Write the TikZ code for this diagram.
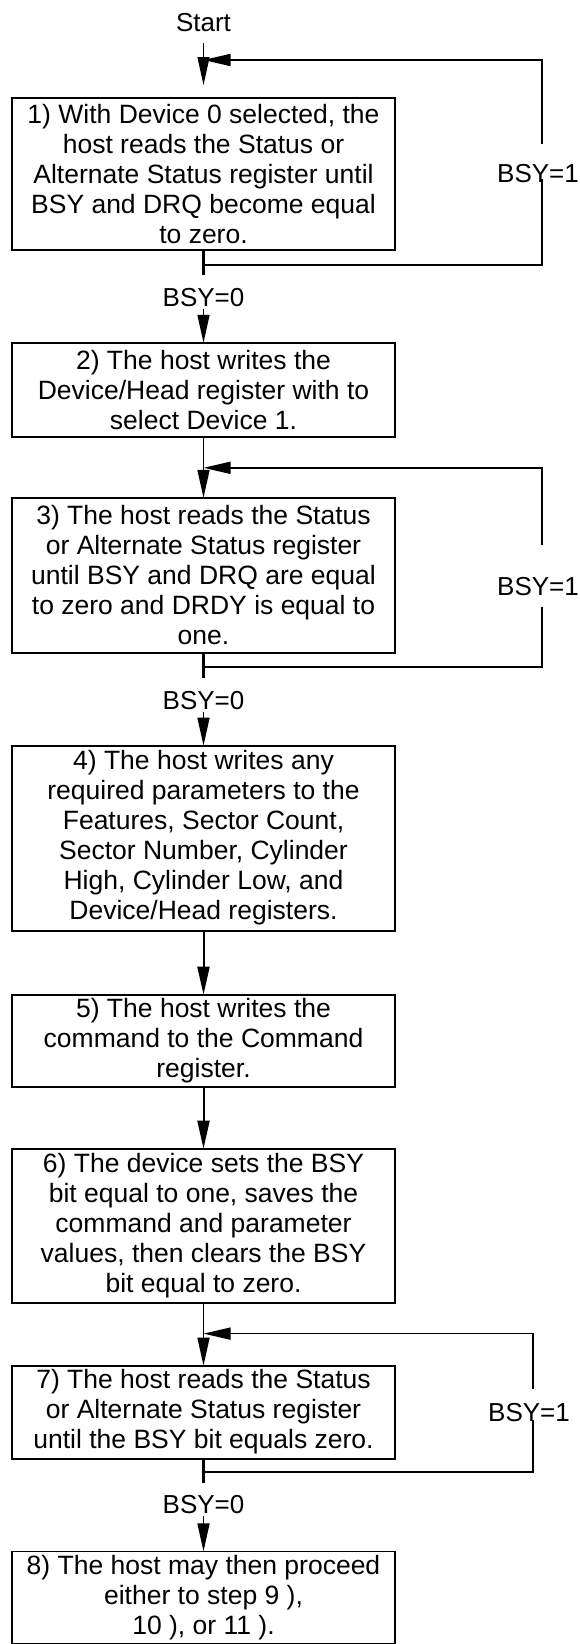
\documentclass[tikz,border=0pt]{standalone}
\usepackage{fontspec}
\setmainfont{Liberation Sans}
\usepackage{tikz}
\usetikzlibrary{
  arrows.meta,
  positioning,
  calc
}
\tikzset{
  stepbox/.style={
    draw, line width=1.8pt, minimum width=383pt, inner sep=0pt, outer sep=0pt,
    align=center, font=\fontsize{26.5}{30}\selectfont
  },
  tag/.style={inner sep=2pt, font=\fontsize{26}{30}\selectfont},
  flow/.style={-{Triangle[length=28pt, width=12pt]}, line width=1.4pt},
  backflow/.style={-{Triangle[length=27pt, width=12pt]}, line width=1.6pt},
  retline/.style={line width=2.2pt}
}

\begin{document}
\begin{tikzpicture}[node distance=62pt]
  \useasboundingbox (0,0) rectangle (580pt,-1644pt);
  \node[stepbox, minimum height=152pt] (s1) at (203.5pt,-174pt) {1) With Device 0 selected, the\\host reads the Status or\\Alternate Status register until\\BSY and DRQ become equal\\to zero.};
  \node[tag, above=64pt of s1] (start) {Start};
  \node[tag, below=36pt of s1] (zero1) {BSY=0};
  \node[stepbox, minimum height=94pt, below=34pt of zero1] (s2) {2) The host writes the\\Device/Head register with to\\select Device 1.};
  \node[stepbox, minimum height=155pt, below=61pt of s2] (s3) {3) The host reads the Status\\or Alternate Status register\\until BSY and DRQ are equal\\to zero and DRDY is equal to\\one.};
  \node[tag, below=36pt of s3] (zero3) {BSY=0};
  \node[stepbox, minimum height=185pt, below=34pt of zero3] (s4) {4) The host writes any\\required parameters to the\\Features, Sector Count,\\Sector Number, Cylinder\\High, Cylinder Low, and\\Device/Head registers.};
  \node[stepbox, minimum height=92pt, below=64pt of s4] (s5) {5) The host writes the\\command to the Command\\register.};
  \node[stepbox, minimum height=154pt, below=of s5] (s6) {6) The device sets the BSY\\bit equal to one, saves the\\command and parameter\\values, then clears the BSY\\bit equal to zero.};
  \node[stepbox, minimum height=93pt, below=63pt of s6] (s7) {7) The host reads the Status\\or Alternate Status register\\until the BSY bit equals zero.};
  \node[tag, below=35pt of s7] (zero7) {BSY=0};
  \node[stepbox, minimum height=92pt, below=35pt of zero7] (s8) {8) The host may then proceed\\either to step 9 ),\\10 ), or 11 ).};

  \coordinate[above=38pt of s1] (in1);
  \coordinate[below=15pt of s1] (out1);
  \coordinate (edge1) at ([xshift=147pt]s1.east);
  \node[tag, xshift=-4pt] (one1) at (edge1 |- s1) {BSY=1};

  \coordinate[above=30pt of s3] (in3);
  \coordinate[below=14pt of s3] (out3);
  \coordinate (edge3) at ([xshift=147pt]s3.east);
  \node[tag, xshift=-4pt, yshift=-11.5pt] (one3) at (edge3 |- s3) {BSY=1};

  \coordinate[above=32pt of s7] (in7);
  \coordinate[below=13pt of s7] (out7);
  \coordinate (edge7) at ([xshift=138pt]s7.east);
  \node[tag, xshift=-4pt] (one7) at (edge7 |- s7) {BSY=1};

  \draw[flow, line width=1.2pt, shorten <=9pt, shorten >=13pt] (start) -- (s1);
  \draw[retline, shorten >=11pt] (s1) -- (zero1);
  \draw[retline] (out1) -| ($(one1 -| edge1)+(0,-5pt)$);
  \draw[backflow] ($(one1 -| edge1)+(0,30pt)$) |- (in1);
  \draw[flow] (zero1) -- (s2);

  \draw[flow] (s2) -- (s3);
  \draw[retline, shorten >=11pt] (s3) -- (zero3);
  \draw[retline] (out3) -| ($(one3 -| edge3)+(0,-20pt)$);
  \draw[backflow] ($(one3 -| edge3)+(0,42pt)$) |- (in3);
  \draw[flow] (zero3) -- (s4);

  \draw[flow, line width=2pt] (s4) -- (s5);
  \draw[flow, line width=2pt] (s5) -- (s6);
  \draw[flow] (s6) -- (s7);

  \draw[retline, shorten >=11pt] (s7) -- (zero7);
  \draw[retline] (out7) -| ($(one7 -| edge7)+(0,-8pt)$);
  \draw[backflow] ($(one7 -| edge7)+(0,23pt)$) |- (in7);
  \draw[flow] (zero7) -- (s8);
\end{tikzpicture}
\end{document}
